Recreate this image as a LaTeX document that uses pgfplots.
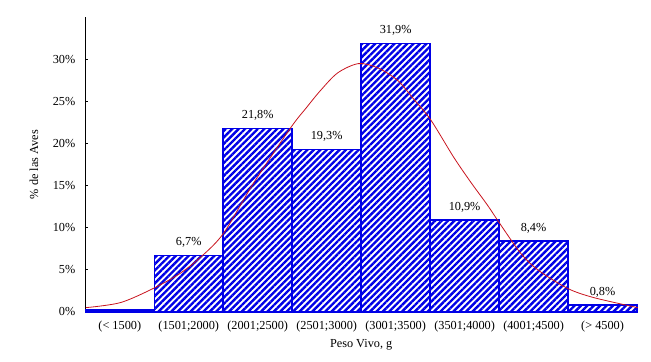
\documentclass[border=0pt]{standalone}
\usepackage{pgfplots}
\pgfplotsset{compat=1.18}
\usepackage{fontspec}
\setmainfont{Liberation Serif}
\usetikzlibrary{patterns.meta}
\definecolor{barblue}{RGB}{0,0,230}
\definecolor{curvered}{RGB}{200,20,30}
\begin{document}
\begin{tikzpicture}
\begin{axis}[
  scale only axis,
  width=414pt, height=221pt,
  xmin=-0.5, xmax=7.5,
  ymin=0, ymax=35,
  axis x line*=bottom, axis y line*=left,
  axis line style={black, line width=0.8pt},
  xtick={0,1,2,3,4,5,6,7},
  xticklabels={(< 1500),(1501;2000),(2001;2500),(2501;3000),(3001;3500),(3501;4000),(4001;4500),(> 4500)},
  x tick style={draw=none},
  ytick={0,5,10,15,20,25,30},
  yticklabel={\pgfmathprintnumber{\tick}\%},
  y tick style={black, line width=0.6pt},
  major tick length=2pt,
  tick align=inside,
  /pgf/number format/assume math mode=true,
  ticklabel style={font=\fontsize{9.2}{11}\selectfont},
  yticklabel style={xshift=-4pt},
  xticklabel style={yshift=-3pt},
  xlabel={Peso Vivo, g},
  ylabel={\% de las Aves},
  label style={font=\fontsize{9.2}{11}\selectfont},
  xlabel style={yshift=1pt},
  ylabel style={yshift=4pt},
  clip=false,
]
\addplot[ybar, bar width=1, draw=barblue, line width=1.1pt,
  pattern={Lines[angle=45,distance=3.4pt,line width=1.8pt]}, pattern color=barblue,
  nodes near coords style={font=\fontsize{9.2}{11}\selectfont, black, yshift=2pt},
  visualization depends on={y \as \yv},
  nodes near coords={\ifdim\yv pt<0.5pt\else\pgfmathprintnumber[fixed,fixed zerofill,precision=1,use comma]{\pgfplotspointmeta}\%\fi},
] coordinates {
(0,0.2) (1,6.7) (2,21.8) (3,19.3) (4,31.9) (5,10.9) (6,8.4) (7,0.8)
};
\addplot[curvered, line width=0.6pt, smooth, tension=0.5] coordinates {
(-0.49,0.5) (0.01,1.1) (0.49,2.8) (0.88,4.6) (1.20,6.7) (1.51,9.4)
(1.94,15.3) (2.48,21.9) (2.70,24.2) (2.91,26.3) (3.16,28.4) (3.46,29.5)
(3.74,29.0) (4.03,27.5) (4.26,25.3) (4.51,22.8) (4.84,18.4) (5.09,15.4)
(5.33,12.7) (5.51,10.5) (5.81,7.0) (6.06,5.0) (6.49,2.8) (6.87,1.7) (7.51,0.5)
};
\end{axis}
\path (current axis.south west) ++(-64pt,-37pt);
\path (current axis.north east) ++(10.5pt,13pt);
\end{tikzpicture}
\end{document}
